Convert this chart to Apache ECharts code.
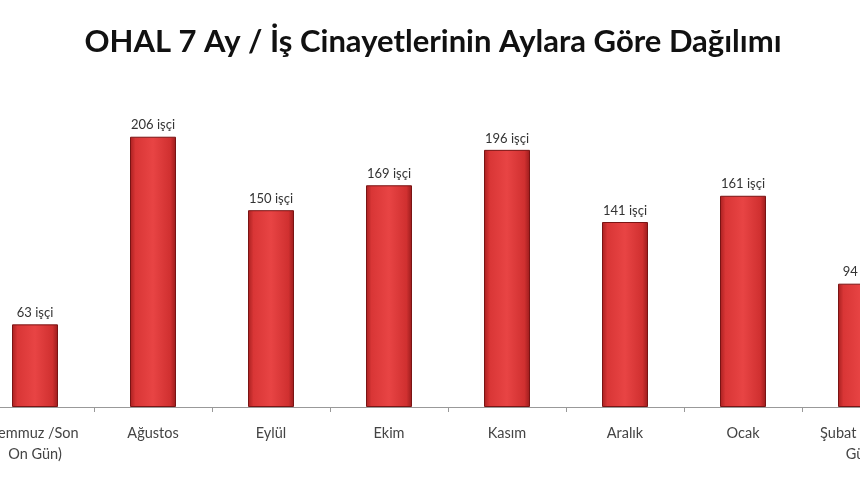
<!DOCTYPE html>
<html><head><meta charset="utf-8">
<script src="https://cdn.jsdelivr.net/npm/echarts@6/dist/echarts.min.js"></script>
<style>html,body{margin:0;padding:0;background:#fff;overflow:hidden;width:860px;height:480px}#c{position:absolute;left:-24px;top:0;width:944px;height:480px}</style>
</head><body><div id="c"></div>
<script>
var categories = ['Temmuz /Son\nOn Gün)', 'Ağustos', 'Eylül', 'Ekim', 'Kasım', 'Aralık', 'Ocak', 'Şubat (İlk On\nGün)'];
var values = [63, 206, 150, 169, 196, 141, 161, 94];
var labelSuffix = ' işçi';

var chart = echarts.init(document.getElementById('c'));
chart.setOption({
  animation: false,
  title: {
    text: 'OHAL 7 Ay / İş Cinayetlerinin Aylara Göre Dağılımı',
    left: 452, top: 21, textAlign: 'center',
    textStyle: { fontFamily: 'Lato', fontSize: 31, fontWeight: 'bold', color: '#111' }
  },
  grid: { left: 0, right: 0, top: 79, bottom: 73 },
  xAxis: {
    type: 'category', data: categories,
    axisLine: { lineStyle: { color: '#999' } },
    axisTick: { show: true, alignWithLabel: false, length: 5, lineStyle: { color: '#999' } },
    axisLabel: { color: '#444', fontFamily: 'Lato', fontSize: 14.5, lineHeight: 21, margin: 16, interval: 0 }
  },
  yAxis: { type: 'value', min: 0, max: 250, show: false, splitLine: { show: false } },
  series: [{
    type: 'bar', data: values, barWidth: 46,
    itemStyle: {
      color: new echarts.graphic.LinearGradient(0, 0, 1, 0, [
        { offset: 0, color: '#a82020' },
        { offset: 0.12, color: '#d93636' },
        { offset: 0.5, color: '#e84444' },
        { offset: 0.88, color: '#d03030' },
        { offset: 1, color: '#9a1c1c' }
      ]),
      borderColor: '#7a1414', borderWidth: 1
    },
    label: {
      show: true, position: 'top', distance: 5,
      formatter: function (p) { return p.value + labelSuffix; },
      color: '#333', fontFamily: 'Lato', fontSize: 13
    }
  }]
});
</script></body></html>
